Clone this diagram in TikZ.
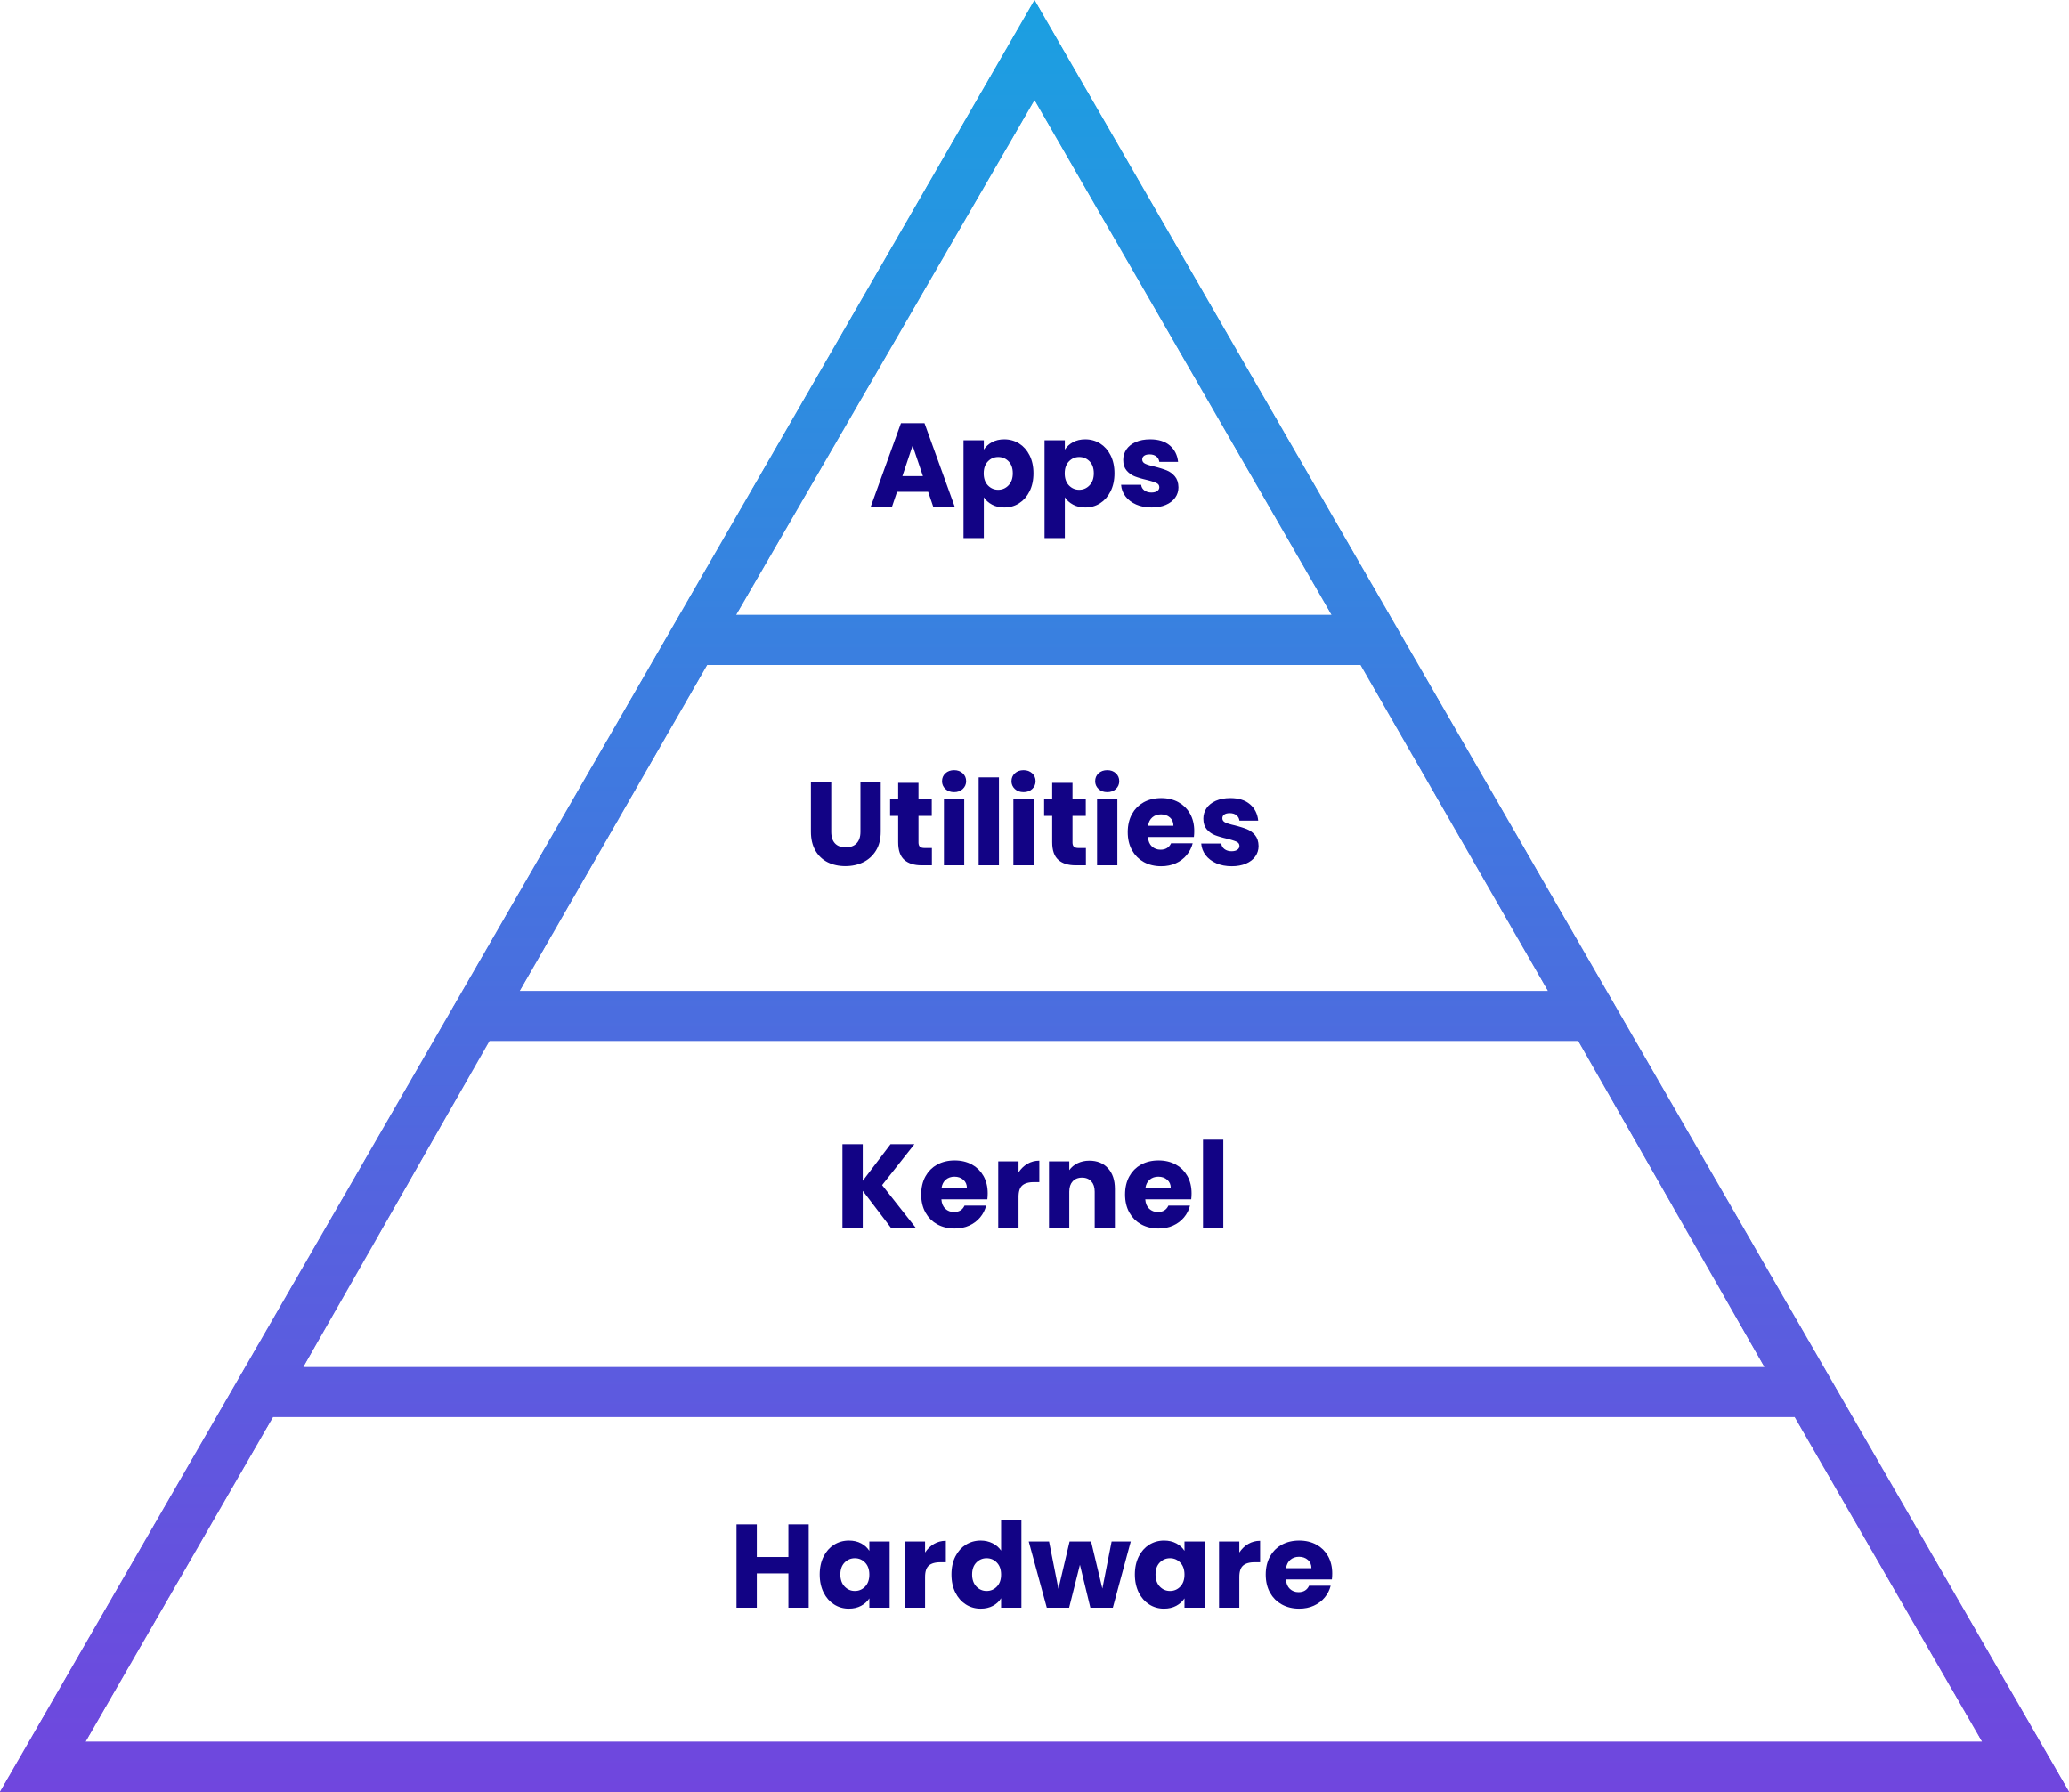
\documentclass[tikz,border=0pt]{standalone}
\usepackage{fontspec}
\setmainfont{Poppins}
\definecolor{topc}{HTML}{1BA0E1}
\definecolor{botc}{HTML}{7046DE}
\definecolor{txt}{HTML}{120385}
\tikzset{layer/.style={fill=white,draw=none},
  lbl/.style={anchor=base,text=txt,font=\fontsize{45}{50}\selectfont\bfseries,inner sep=0pt}}
\begin{document}
\begin{tikzpicture}[x=0.5pt,y=-0.5pt]
\useasboundingbox (0,0) rectangle (1568,1358);
\shade[top color=topc,bottom color=botc] (784,0) -- (1568,1358) -- (0,1358) -- cycle;
\fill[layer] (784,76) -- (1009,466) -- (558,466) -- cycle;
\fill[layer] (536,504) -- (1031,504) -- (1173,751) -- (394,751) -- cycle;
\fill[layer] (371,789) -- (1196,789) -- (1337,1036) -- (230,1036) -- cycle;
\fill[layer] (207,1074) -- (1360,1074) -- (1502,1320) -- (65,1320) -- cycle;
\node[lbl] (apps) at (778,384) {Apps};
\node[lbl] (util) at (784,656) {Utilities};
\node[lbl] (kern) at (783,931) {Kernel};
\node[lbl] (hard) at (783,1219) {Hardware};
\end{tikzpicture}
\end{document}
